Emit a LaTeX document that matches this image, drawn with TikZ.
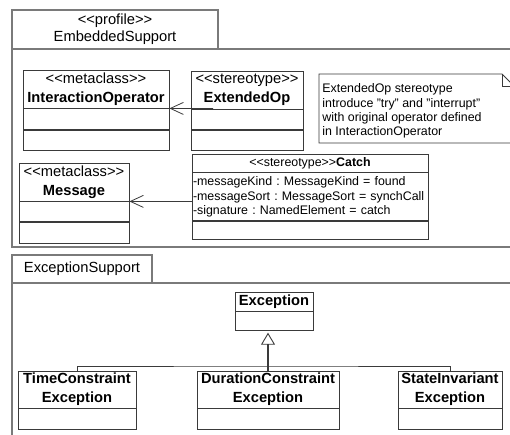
\documentclass[tikz,border=0pt]{standalone}
\usepackage{fontspec}
\setmainfont{Liberation Sans}
\usetikzlibrary{positioning,arrows.meta}

\newcommand{\bigtxt}{\fontsize{14.7}{19}\selectfont\frenchspacing}
\newcommand{\tabtxt}{\fontsize{14.7}{17}\selectfont\frenchspacing}
\newcommand{\smalltxt}{\fontsize{12.4}{14.4}\selectfont\frenchspacing}
\newcommand{\ster}[1]{<\kern0pt<#1>\kern0pt>}
\definecolor{boxline}{HTML}{3A3A3A}
\definecolor{pkgline}{HTML}{7A7A7A}

\begin{document}
\begin{tikzpicture}[x=1pt, y=-1pt, line width=0.8pt, node distance=0pt,
    hdr/.style = {draw=boxline, fill=white, inner sep=0pt, align=center, font=\bigtxt},
    cmp/.style = {draw=boxline, fill=white, inner sep=0pt},
    tab/.style = {draw=pkgline, line width=1.1pt, fill=white, inner sep=0pt, align=center, font=\tabtxt},
    pkg/.style = {draw=pkgline, line width=1.3pt},
    assoc/.style = {draw=boxline, -{Straight Barb[length=13pt, width=12pt, line width=0.8pt]}},
    gen/.style = {draw=boxline, line width=1.3pt, -{Triangle[open, length=12pt, width=14pt, line width=0.9pt]}}]
    \clip (0,0) rectangle (510,434);

    % packages
    \draw[pkg] (12,49) rectangle (520,247);
    \node[tab, minimum width=206, minimum height=39] (p1) at (115,29.5) {\ster{profile}\\EmbeddedSupport};
    \draw[pkg] (12,283) rectangle (520,440);
    \node[tab, minimum width=140, minimum height=28] (p2) at (82,269) {ExceptionSupport};

    % EmbeddedSupport
    \node[hdr, minimum width=146, minimum height=38] (io) at (96,89) {\ster{metaclass}\\\textbf{InteractionOperator}};
    \node[cmp, minimum width=146, minimum height=21] (io2) [below=of io] {};
    \node[cmp, minimum width=146, minimum height=20] (io3) [below=of io2] {};

    \node[hdr, minimum width=112, minimum height=38] (eo) at (247,90) {\ster{stereotype}\\\textbf{ExtendedOp}};
    \node[cmp, minimum width=112, minimum height=20] (eo2) [below=of eo] {};
    \node[cmp, minimum width=112, minimum height=20] (eo3) [below=of eo2] {};

    \node[hdr, minimum width=110, minimum height=38] (msg) at (74,182) {\ster{metaclass}\\\textbf{Message}};
    \node[cmp, minimum width=110, minimum height=20] (msg2) [below=of msg] {};
    \node[cmp, minimum width=110, minimum height=21] (msg3) [below=of msg2] {};

    \node[hdr, font=\smalltxt, minimum width=236, minimum height=18] (ct) at (310,163) {\ster{stereotype}\textbf{Catch}};
    \node[cmp, font=\smalltxt, align=left, text width=234, inner xsep=1pt, minimum height=48] (ct2) [below=of ct]
        {-messageKind : MessageKind = found\\-messageSort : MessageSort = synchCall\\-signature : NamedElement = catch};
    \node[cmp, minimum width=236, minimum height=18] (ct3) [below=of ct2] {};

    % note
    \draw[draw=boxline, fill=white] (319,74) -- (502,74) -- (514,86) -- (514,143) -- (319,143) -- cycle;
    \draw[draw=boxline] (502,74) |- (514,86);
    \node[font=\smalltxt, align=left, anchor=west, inner sep=3pt] (nt) at (319,111)
        {ExtendedOp stereotype\\introduce "try" and "interrupt"\\with original operator defined\\in InteractionOperator};

    \coordinate (eot) at (213,108.5);
    \draw[assoc] (eot) -- (io.south east);
    \draw[assoc] (ct2.west |- msg.south east) -- (msg.south east);

    % ExceptionSupport
    \node[hdr, minimum width=78, minimum height=19] (exc) at (274,301.5) {\textbf{Exception}};
    \node[cmp, minimum width=78, minimum height=19] (exc2) [below=of exc] {};

    \node[hdr, minimum width=118, minimum height=37] (tce) at (77,389.5) {\textbf{TimeConstraint}\\\textbf{Exception}};
    \node[cmp, minimum width=118, minimum height=21] (tce2) [below=of tce] {};
    \node[hdr, minimum width=142, minimum height=37] (dce) at (268,389.5) {\textbf{DurationConstraint}\\\textbf{Exception}};
    \node[cmp, minimum width=142, minimum height=21] (dce2) [below=of dce] {};
    \node[hdr, minimum width=104, minimum height=37] (sie) at (450,389.5) {\textbf{StateInvariant}\\\textbf{Exception}};
    \node[cmp, minimum width=104, minimum height=21] (sie2) [below=of sie] {};

    \coordinate (bar) at (268,366);
    \draw[draw=boxline] (tce.north) |- (bar) -| (sie.north);
    \draw[gen] (dce.north) -- ([yshift=-1.5pt]dce.north |- exc2.south);
\end{tikzpicture}
\end{document}
